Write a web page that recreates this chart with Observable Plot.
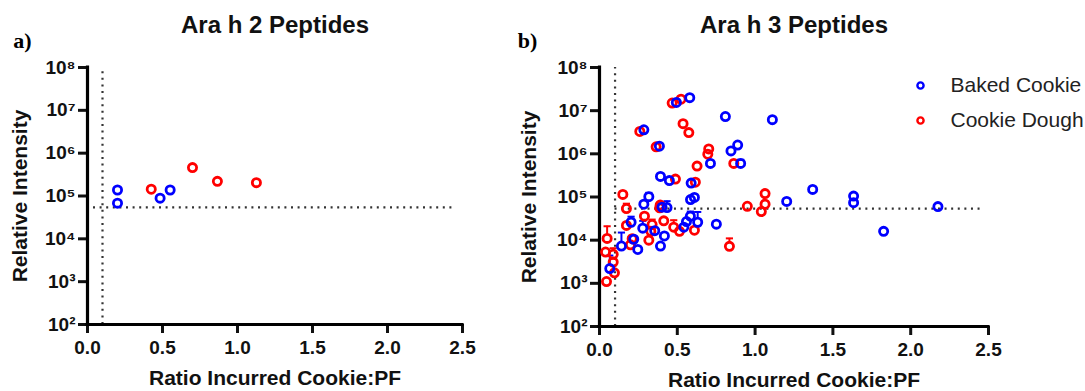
<!DOCTYPE html>
<html><head><meta charset="utf-8">
<script src="https://cdn.jsdelivr.net/npm/d3@7"></script>
<script src="https://cdn.jsdelivr.net/npm/@observablehq/plot@0.6"></script>
<style>
html,body{margin:0;padding:0;background:#fff;}
#wrap{position:relative;width:1085px;height:391px;overflow:hidden;background:#fff;}
#wrap svg{position:absolute;top:0;overflow:visible;}
</style></head><body><div id="wrap"></div>
<script>
// ---------- data ----------
const xTicks = [0, 0.5, 1, 1.5, 2, 2.5];
const xTickLabels = ["0.0", "0.5", "1.0", "1.5", "2.0", "2.5"];
const yTicks = [1e2, 1e3, 1e4, 1e5, 1e6, 1e7, 1e8];
const yTickLabels = ["10²", "10³", "10⁴", "10⁵", "10⁶", "10⁷", "10⁸"];
const seriesNames = ["Baked Cookie", "Cookie Dough"];
const panelTitles = ["Ara h 2 Peptides", "Ara h 3 Peptides"];
const panelLetters = ["a)", "b)"];
const xTitle = "Ratio Incurred Cookie:PF";
const yTitle = "Relative Intensity";
const loqRatio = 0.1;
const loqIntensity = 5.4e4;

// Ara h 2
const a2BakedX = [0.20, 0.20, 0.484, 0.551];
const a2BakedY = [1.38e5, 6.8e4, 8.9e4, 1.38e5];
const a2DoughX = [0.425, 0.70, 0.866, 1.126];
const a2DoughY = [1.44e5, 4.6e5, 2.2e5, 2.05e5];

// Ara h 3
const a3BakedX = [0.58, 0.494, 0.809, 1.111, 0.285, 0.385, 0.888, 0.845, 0.713, 0.907,
  0.392, 0.449, 0.589, 1.37, 1.633, 1.633, 1.203, 2.175, 1.826, 0.751,
  0.285, 0.317, 0.402, 0.434, 0.203, 0.278, 0.355, 0.417, 0.392, 0.542,
  0.559, 0.584, 0.631, 0.22, 0.141, 0.246, 0.066, 0.585, 0.61];
const a3BakedY = [2.0e7, 1.55e7, 7.3e6, 6.2e6, 3.6e6, 1.5e6, 1.6e6, 1.17e6, 6e5, 6e5,
  3e5, 2.4e5, 2.1e5, 1.5e5, 1.05e5, 7.4e4, 7.9e4, 6e4, 1.6e4, 2.35e4,
  6.8e4, 1.02e5, 5.8e4, 5.7e4, 2.6e4, 1.9e4, 1.66e4, 1.25e4, 7.3e3, 2.0e4,
  2.7e4, 3.6e4, 2.6e4, 1.05e4, 7.3e3, 6.1e3, 2.2e3, 8.7e4, 9.8e4];
const a3DoughX = [0.467, 0.524, 0.259, 0.537, 0.574, 0.364, 0.702, 0.696, 0.863, 0.627,
  0.488, 0.616, 1.064, 1.064, 1.04, 0.95, 0.835, 0.15, 0.173, 0.39,
  0.387, 0.173, 0.289, 0.338, 0.413, 0.477, 0.514, 0.61, 0.317, 0.21,
  0.199, 0.049, 0.039, 0.088, 0.088, 0.096, 0.045, 0.33];
const a3DoughY = [1.5e7, 1.85e7, 3.3e6, 5e6, 3.1e6, 1.45e6, 1.3e6, 9.8e5, 6e5, 5.2e5,
  2.6e5, 2.2e5, 1.2e5, 6.8e4, 4.6e4, 6.1e4, 7.2e3, 1.15e5, 5.4e4, 6.5e4,
  5.6e4, 2.2e4, 3.6e4, 2.3e4, 2.8e4, 2.0e4, 1.6e4, 1.7e4, 1.0e4, 1.08e4,
  7.8e3, 1.1e4, 5.3e3, 4.7e3, 3.1e3, 1.75e3, 1.1e3, 1.6e4];

// upper error bars (Ara h 3)
const a3BakedErrX = [0.141, 0.066, 0.203, 0.317, 0.434, 0.584, 0.631, 0.278, 0.907];
const a3BakedErrY = [7.3e3, 2.2e3, 2.6e4, 1.02e5, 5.7e4, 3.6e4, 2.6e4, 1.9e4, 6e5];
const a3BakedErrHi = [1.5e4, 4.4e3, 3.5e4, 1.25e5, 8e4, 4.6e4, 4.5e4, 2.8e4, 7.3e5];
const a3DoughErrX = [0.049, 0.835, 0.173, 0.477, 0.338, 0.088];
const a3DoughErrY = [1.1e4, 7.2e3, 5.4e4, 2.0e4, 2.3e4, 4.7e3];
const a3DoughErrHi = [2.1e4, 1.1e4, 7e4, 2.9e4, 3.0e4, 6.5e3];

// ---------- styling ----------
const BLUE = "#0000ff", RED = "#ff0000";
const FONT = "'Liberation Sans', Arial, Helvetica, sans-serif";

const pts = (X, Y) => X.map((x, i) => ({x, y: Y[i]}));
const errs = (X, Y, H) => X.map((x, i) => ({x, y: Y[i], hi: H[i]}));
const capSymbol = {draw(ctx, size) { const w = Math.sqrt(size / Math.PI); ctx.moveTo(-w, 0); ctx.lineTo(w, 0); }};

function panel(cfg) {
  const marks = [
    // reference lines
    Plot.ruleX([loqRatio], {y1: 1e2, y2: 1e8, stroke: "#333", strokeWidth: 2.2, strokeDasharray: "2,4.6"}),
    Plot.ruleY([loqIntensity], {x1: cfg.hx1, x2: 2.46, stroke: "#333", strokeWidth: 2.2, strokeDasharray: "2,4.6"}),
    // axes
    Plot.axisX({ticks: xTicks, tickFormat: d => xTickLabels[xTicks.indexOf(d)], tickSize: 9, tickPadding: 7,
      strokeWidth: 3, fontSize: 19, fontWeight: "bold", fill: "#111", label: null}),
    Plot.axisY({ticks: yTicks, tickFormat: d => yTickLabels[yTicks.indexOf(d)], tickSize: 9, tickPadding: 3,
      strokeWidth: 3, fontSize: 19, fontWeight: "bold", fill: "#111", label: null}),
    Plot.ruleX([0], {y1: 1e2, y2: 1e8, strokeWidth: 3.2, stroke: "#000", strokeLinecap: "square"}),
    Plot.ruleY([1e2], {x1: 0, x2: 2.5, strokeWidth: 3.2, stroke: "#000", strokeLinecap: "square"}),
    // text
    Plot.text([cfg.title], {text: d => d, frameAnchor: "top", dy: -42, fontSize: 24, fontWeight: "bold", fill: "#111",
      lineAnchor: "middle", textAnchor: "middle"}),
    Plot.text([cfg.letter], {text: d => d, frameAnchor: "top-left", dx: cfg.letterDx, dy: -27, fontSize: 22, fontWeight: "bold",
      fontFamily: "'Liberation Serif', 'Times New Roman', serif", fill: "#000", lineAnchor: "middle", textAnchor: "middle"}),
    Plot.text([xTitle], {text: d => d, frameAnchor: "bottom", dy: 54, fontSize: 21, fontWeight: "bold", fill: "#111",
      lineAnchor: "middle", textAnchor: "middle"}),
    Plot.text([yTitle], {text: d => d, frameAnchor: "left", dx: cfg.yTitleDx, rotate: -90, fontSize: 21, fontWeight: "bold",
      fill: "#111", lineAnchor: "middle", textAnchor: "middle"}),
  ];
  if (cfg.doughErr) {
    marks.push(
      Plot.ruleX(cfg.doughErr, {x: "x", y1: "hi", y2: "y", stroke: RED, strokeWidth: 2, insetBottom: 4}),
      Plot.dot(cfg.doughErr, {x: "x", y: "hi", symbol: capSymbol, r: 3.6, stroke: RED, strokeWidth: 2}),
      Plot.ruleX(cfg.bakedErr, {x: "x", y1: "hi", y2: "y", stroke: BLUE, strokeWidth: 2, insetBottom: 4}),
      Plot.dot(cfg.bakedErr, {x: "x", y: "hi", symbol: capSymbol, r: 3.6, stroke: BLUE, strokeWidth: 2})
    );
  }
  marks.push(
    Plot.dot(cfg.dough, {x: "x", y: "y", r: 4.1, stroke: RED, strokeWidth: 2.8, fill: "none"}),
    Plot.dot(cfg.baked, {x: "x", y: "y", r: 4.1, stroke: BLUE, strokeWidth: 2.8, fill: "none"})
  );
  if (cfg.legend) {
    [BLUE, RED].forEach((c, i) => {
      marks.push(
        Plot.dot([seriesNames[i]], {frameAnchor: "top-left", dx: 321, dy: 18 + 35 * i, r: 3.1, stroke: c, strokeWidth: 2.4, fill: "none"}),
        Plot.text([seriesNames[i]], {text: d => d, frameAnchor: "top-left", dx: 351, dy: 18 + 35 * i, textAnchor: "start",
          lineAnchor: "middle", fontSize: 21, fontWeight: "normal", fill: "#222"})
      );
    });
  }
  const svg = Plot.plot({
    width: cfg.width, height: 391,
    marginLeft: cfg.ml, marginRight: cfg.mr, marginTop: 67, marginBottom: cfg.mb,
    x: {domain: [0, 2.5]},
    y: {type: "log", domain: [1e2, 1e8]},
    style: {fontFamily: FONT, fontSize: "19px", fontWeight: "bold", background: "transparent", color: "#111"},
    marks
  });
  svg.style.left = cfg.left + "px";
  document.getElementById("wrap").appendChild(svg);
}

panel({title: panelTitles[0], letter: panelLetters[0], left: 0, width: 520, ml: 87, mr: 58, mb: 67,
  hx1: 0.04, letterDx: -65, yTitleDx: -67,
  baked: pts(a2BakedX, a2BakedY), dough: pts(a2DoughX, a2DoughY)});
panel({title: panelTitles[1], letter: panelLetters[1], left: 530, width: 555, ml: 69, mr: 97, mb: 65,
  hx1: 0.1, letterDx: -72, yTitleDx: -70, legend: true,
  baked: pts(a3BakedX, a3BakedY), dough: pts(a3DoughX, a3DoughY),
  bakedErr: errs(a3BakedErrX, a3BakedErrY, a3BakedErrHi), doughErr: errs(a3DoughErrX, a3DoughErrY, a3DoughErrHi)});
</script></body></html>
